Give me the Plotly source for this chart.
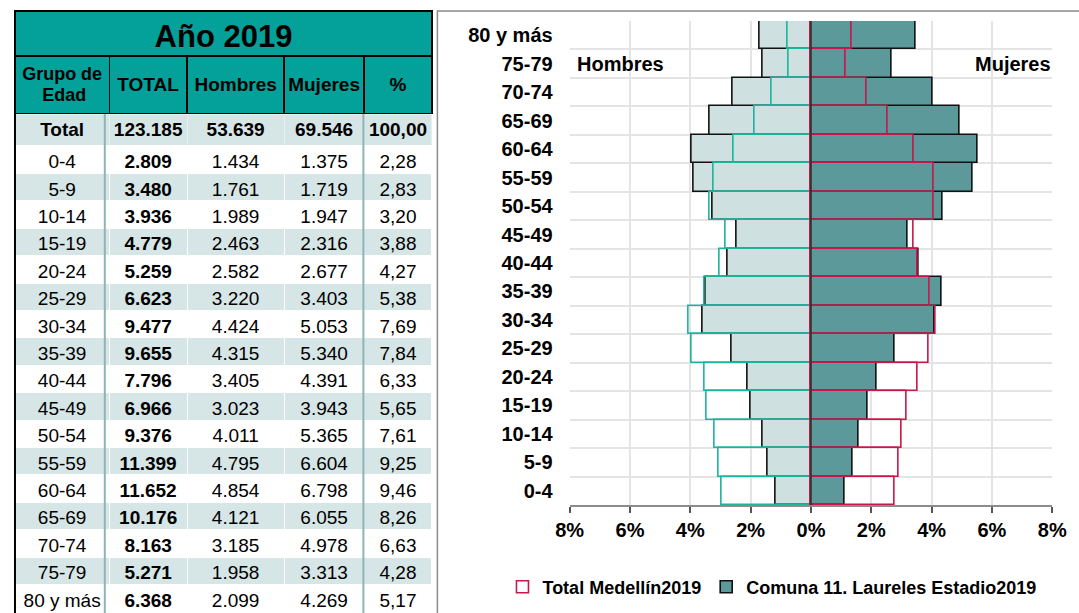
import plotly.graph_objects as go

# ---------------- data ----------------
age_groups = ["0-4", "5-9", "10-14", "15-19", "20-24", "25-29", "30-34", "35-39",
              "40-44", "45-49", "50-54", "55-59", "60-64", "65-69", "70-74", "75-79", "80 y más"]
hombres = [1434, 1761, 1989, 2463, 2582, 3220, 4424, 4315, 3405, 3023, 4011, 4795, 4854, 4121, 3185, 1958, 2099]
mujeres = [1375, 1719, 1947, 2316, 2677, 3403, 5053, 5340, 4391, 3943, 5365, 6604, 6798, 6055, 4978, 3313, 4269]
pct_total = [2.28, 2.83, 3.20, 3.88, 4.27, 5.38, 7.69, 7.84, 6.33, 5.65, 7.61, 9.25, 9.46, 8.26, 6.63, 4.28, 5.17]
col_headers = ["Grupo de<br>Edad", "TOTAL", "Hombres", "Mujeres", "%"]
table_title = "Año 2019"
total_label = "Total"
total_all = 123185
total_h = 53639
total_m = 69546
total_pct = 100.00

# Total Medellín 2019 (% of population)
medellin_h = [2.95, 3.05, 3.19, 3.45, 3.54, 3.94, 4.05, 3.51, 3.04, 2.82, 3.35, 3.22, 2.57, 1.88, 1.29, 0.73, 0.76]
medellin_m = [2.79, 2.90, 3.01, 3.16, 3.53, 3.91, 4.15, 3.92, 3.55, 3.42, 4.07, 4.07, 3.39, 2.55, 1.85, 1.14, 1.36]

x_ticks = [-8, -6, -4, -2, 0, 2, 4, 6, 8]
x_ticktext = ["8%", "6%", "4%", "2%", "0%", "2%", "4%", "6%", "8%"]

# ---------------- helpers ----------------
W, H = 1079, 613
def sx(v):
    # target horizontal pixel -> paper fraction (compensates the viewer's horizontal mapping)
    return ((v - 14) / 0.986) / W
def px_y(v):
    return 1 - v / H

def fmt_int(v):
    return f"{v:,}".replace(",", ".")
def fmt_pct(v):
    return f"{v:.2f}".replace(".", ",")

totals = [h + m for h, m in zip(hombres, mujeres)]
comuna_h = [-h / total_all * 100 for h in hombres]
comuna_m = [m / total_all * 100 for m in mujeres]
med_h_neg = [-v for v in medellin_h]

TEAL = "#03A199"
LIGHT = "#D6E5E5"
FONT = "Liberation Sans, Arial, sans-serif"

fig = go.Figure()

# ---------------- pyramid ----------------
fig.add_trace(go.Bar(
    y=age_groups, x=comuna_h, orientation="h",
    name="Comuna 11. Laureles Estadio2019", legendgroup="comuna", showlegend=False,
    marker=dict(color="#CFE0E0", line=dict(color="#111111", width=1.6)),
    hoverinfo="skip"))
fig.add_trace(go.Bar(
    y=age_groups, x=comuna_m, orientation="h",
    name="Comuna 11. Laureles Estadio2019", legendgroup="comuna", showlegend=True,
    legendrank=2,
    marker=dict(color="#5B999B", line=dict(color="#111111", width=1.6)),
    hoverinfo="skip"))
fig.add_trace(go.Bar(
    y=age_groups, x=med_h_neg, orientation="h",
    name="Total Medellín2019", legendgroup="med", showlegend=False,
    marker=dict(color="rgba(0,0,0,0)", line=dict(color="#1BB39E", width=1.6)),
    hoverinfo="skip"))
fig.add_trace(go.Bar(
    y=age_groups, x=medellin_m, orientation="h",
    name="Total Medellín2019", legendgroup="med", showlegend=True,
    legendrank=1,
    marker=dict(color="rgba(0,0,0,0)", line=dict(color="#C8174A", width=1.6)),
    hoverinfo="skip"))

# ---------------- table ----------------
colw = [97, 80, 100, 82, 70]
tx0, tx1 = sx(15), sx(438)
no_cells = dict(values=[[] for _ in range(5)])

# title row
fig.add_trace(go.Table(
    domain=dict(x=[tx0, tx1], y=[px_y(56), px_y(11)]),
    columnwidth=[1],
    header=dict(values=[f"<b>{table_title}</b>"], height=45, fill=dict(color=TEAL),
                line=dict(color="black", width=2), align="center",
                font=dict(family=FONT, size=31, color="black")),
    cells=dict(values=[[]])))

# column header row (a small blank first line pushes single-line labels to mid-height)
first, second = col_headers[0].split("<br>")
hdr_vals = ["<span style='font-size:18px'>" + first + "</span><br>"
            "<span style='font-size:18px'>\u00a0\u00a0\u00a0\u00a0" + second + "</span>"]
hdr_vals += ["\u00a0<br><span style='font-size:19px'>" + t + "</span>" for t in col_headers[1:]]
fig.add_trace(go.Table(
    domain=dict(x=[tx0, tx1], y=[px_y(114), px_y(56)]),
    columnwidth=colw,
    header=dict(values=hdr_vals,
                height=58, fill=dict(color=TEAL), line=dict(color="black", width=1.5),
                align="center",
                font=dict(family=FONT, size=[16, 12, 12, 12, 12], color="black", weight="bold")),
    cells=no_cells))

# total row
fig.add_trace(go.Table(
    domain=dict(x=[tx0, tx1], y=[px_y(146), px_y(114)]),
    columnwidth=colw,
    header=dict(values=[total_label, fmt_int(total_all), fmt_int(total_h),
                        fmt_int(total_m), fmt_pct(total_pct)],
                height=32, fill=dict(color=LIGHT), line=dict(color="#E6EFEF", width=1),
                align="center", font=dict(family=FONT, size=19, color="black", weight="bold")),
    cells=no_cells))

# body rows
row_fill = ["white" if i % 2 == 0 else LIGHT for i in range(len(age_groups))]
age_cells = [g.replace(" ", "\u00a0") for g in age_groups]
fig.add_trace(go.Table(
    domain=dict(x=[tx0, tx1], y=[0, px_y(146)]),
    columnwidth=colw,
    header=dict(values=[age_cells,
                        [fmt_int(t) for t in totals],
                        [fmt_int(h) for h in hombres],
                        [fmt_int(m) for m in mujeres],
                        [fmt_pct(p) for p in pct_total]],
                height=27.4, fill=dict(color=[row_fill] * 5),
                line=dict(color="white", width=1), align="center",
                font=dict(family=FONT, size=19, color="black",
                          weight=["normal", "bold", "normal", "normal", "normal"])),
    cells=no_cells))

# ---------------- decorations ----------------
shapes = [
    # chart frame
    dict(type="rect", xref="paper", yref="paper", x0=sx(443), x1=1.02, y0=-0.02, y1=px_y(11),
         line=dict(color="#8A8A8A", width=1.5), fillcolor="rgba(0,0,0,0)", layer="below"),
    # table separators
    dict(type="line", xref="paper", yref="paper", x0=sx(106), x1=sx(106), y0=0, y1=px_y(114),
         line=dict(color="#8DB4B7", width=2)),
    dict(type="line", xref="paper", yref="paper", x0=sx(368), x1=sx(368), y0=0, y1=px_y(114),
         line=dict(color="#8DB4B7", width=2)),
    dict(type="line", xref="paper", yref="paper", x0=sx(15), x1=sx(15), y0=0, y1=px_y(114),
         line=dict(color="black", width=2)),
    # vertical axis line at 0%
    dict(type="line", xref="x", yref="paper", x0=0, x1=0, y0=px_y(505), y1=px_y(21),
         line=dict(color="#2A2A2A", width=1.5)),
]

annotations = [
    dict(text="<b>Hombres</b>", x=-6.32, y="75-79", xref="x", yref="y", showarrow=False,
         font=dict(family=FONT, size=20, color="black")),
    dict(text="<b>Mujeres</b>", x=6.7, y="75-79", xref="x", yref="y", showarrow=False,
         font=dict(family=FONT, size=20, color="black")),
]

fig.update_layout(
    width=W, height=H,
    margin=dict(l=0, r=0, t=0, b=0),
    paper_bgcolor="white", plot_bgcolor="white",
    barmode="overlay", bargap=0,
    showlegend=True,
    legend=dict(orientation="h", x=sx(782), xanchor="center", y=px_y(587), yanchor="middle",
                font=dict(family=FONT, size=18, color="black", weight="bold"),
                bgcolor="rgba(0,0,0,0)", traceorder="normal"),
    xaxis=dict(domain=[sx(577), sx(1066)], range=[-8, 8],
               tickvals=x_ticks, ticktext=x_ticktext,
               showgrid=True, gridcolor="#E4E4E4", gridwidth=2, zeroline=False,
               showline=True, linecolor="#8C8C8C", linewidth=2,
               ticks="outside", ticklen=6, tickcolor="#555555", tickwidth=1.5,
               ticklabelstandoff=0, ticklabeloverflow="allow",
               tickfont=dict(family=FONT, size=20, color="black", weight="bold"),
               fixedrange=True),
    yaxis=dict(domain=[px_y(505), px_y(21)], type="category", categoryorder="array",
               categoryarray=age_groups, tickson="boundaries",
               showgrid=True, gridcolor="#E4E4E4", gridwidth=2, ticks="",
               ticklabelstandoff=16, showline=False,
               tickfont=dict(family=FONT, size=20, color="black", weight="bold"),
               fixedrange=True),
    shapes=shapes,
    annotations=annotations,
)

fig.write_html("out.html", config={"displayModeBar": False},
               post_script="document.body.style.margin='0px';document.body.style.overflow='hidden';")
